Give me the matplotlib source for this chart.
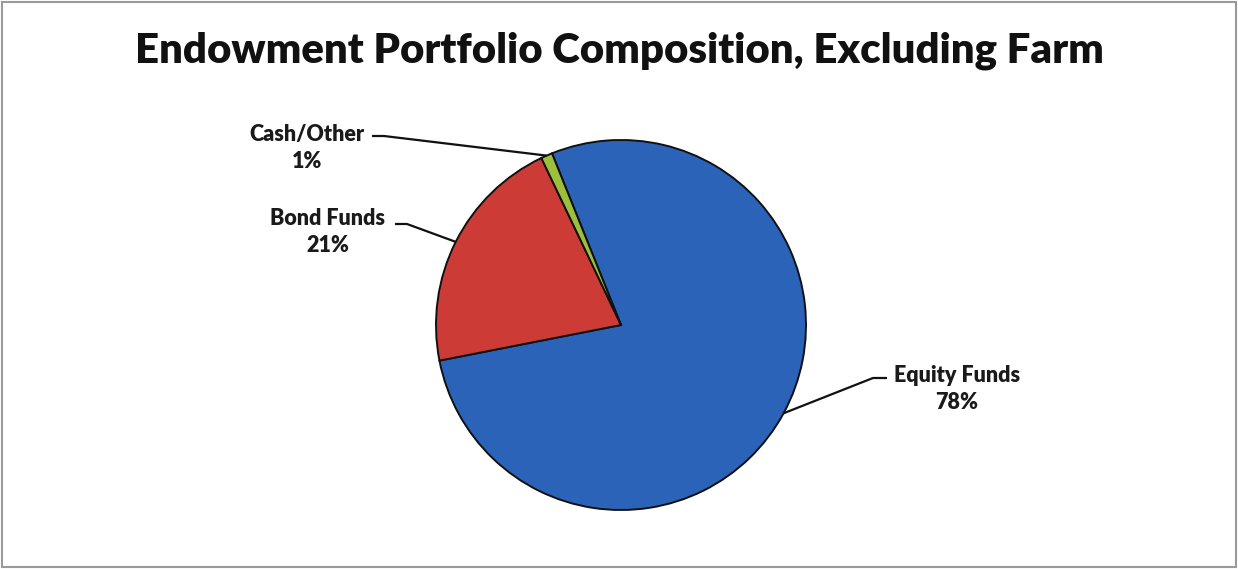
import numpy as np
import matplotlib.pyplot as plt
from matplotlib.patches import Rectangle

# data
labels = ['Equity Funds', 'Bond Funds', 'Cash/Other']
shares = [78, 21, 1]
colors = ['#2b63b9', '#cc3b36', '#9cbf3c']

W, H = 1238, 569
fig = plt.figure(figsize=(W/100, H/100), dpi=100)
ax = fig.add_axes([0, 0, 1, 1])

cx, cy, r = 621, H-325, 185
wedges, _ = ax.pie(shares, colors=colors, startangle=111.9, counterclock=False,
                   center=(cx, cy), radius=r, frame=True,
                   wedgeprops=dict(edgecolor='#111111', linewidth=1.4))
ax.set_xlim(0, W)
ax.set_ylim(0, H)
ax.set_aspect('equal')
ax.axis('off')

plt.rcParams['font.family'] = ['Lato', 'DejaVu Sans']

ax.text(619, H-51, 'Endowment Portfolio Composition, Excluding Farm',
        ha='center', va='center', fontsize=30.2, fontweight='heavy', color='#111111')

# label text centre, elbow start/end x and elbow y
label_pos = {'Cash/Other': (307, H-148, 372, 384, H-136),
             'Bond Funds': (328, H-232, 395, 407, H-224),
             'Equity Funds': (957, H-389, 887, 873, H-378)}

for w, lab, s in zip(wedges, labels, shares):
    mid = np.deg2rad((w.theta1 + w.theta2) / 2)
    ex, ey = cx + r*np.cos(mid), cy + r*np.sin(mid)
    tx, ty, lx, bx, ly = label_pos[lab]
    ax.text(tx, ty, f'{lab}\n{s}%', ha='center', va='center', fontsize=15.5,
            fontweight='heavy', color='#1a1a1a', linespacing=1.35)
    ax.plot([lx, bx, ex], [ly, ly, ey], color='#111111', lw=1.6,
            solid_capstyle='butt')

fig.add_artist(Rectangle((0.002, 0.004), 0.996, 0.992, transform=fig.transFigure,
                         fill=False, edgecolor='#9a9a9a', linewidth=1.5))

fig.savefig('out.png', dpi=100)
